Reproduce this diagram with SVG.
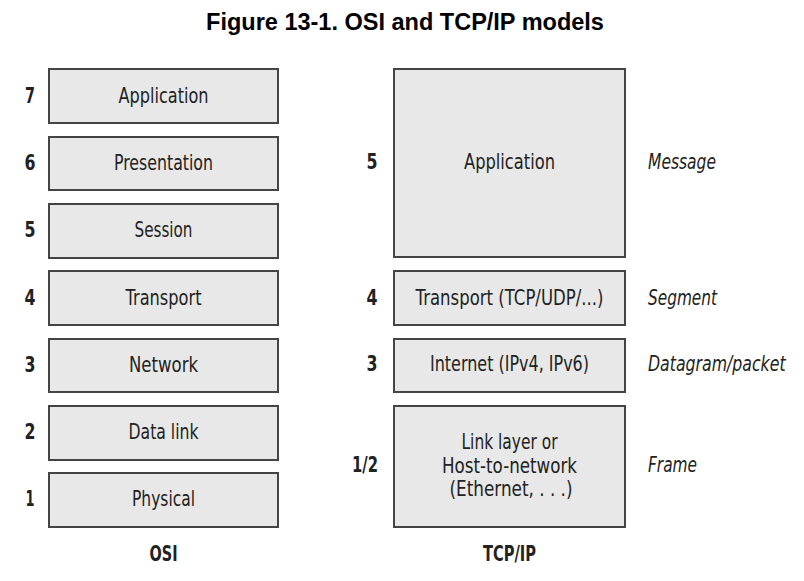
<svg xmlns="http://www.w3.org/2000/svg" width="804" height="581" viewBox="0 0 804 581">
<style>
.box{fill:#e8e8e8;stroke:#444;stroke-width:2}
.t{font-family:"DejaVu Sans",sans-serif;font-size:21px;fill:#222;text-anchor:middle;dominant-baseline:central}
.n{font-family:"DejaVu Sans",sans-serif;font-size:21px;font-weight:bold;fill:#222;text-anchor:middle;dominant-baseline:central}
.i{font-family:"DejaVu Sans",sans-serif;font-size:21px;font-style:italic;fill:#222;dominant-baseline:central}
.title{font-family:"Liberation Sans",Arial,sans-serif;font-size:23.5px;font-weight:bold;fill:#000;text-anchor:middle}
</style>
<rect width="804" height="581" fill="#fff"/>
<text class="title" x="405" y="30">Figure 13-1. OSI and TCP/IP models</text>
<g id="osi7"><rect class="box" x="49" y="69" width="229" height="54"/><text class="t" x="163.5" y="96" textLength="90" lengthAdjust="spacingAndGlyphs">Application</text><text class="n" x="30" y="96" textLength="10" lengthAdjust="spacingAndGlyphs">7</text></g>
<g id="osi6"><rect class="box" x="49" y="137" width="229" height="53"/><text class="t" x="163.5" y="163" textLength="99" lengthAdjust="spacingAndGlyphs">Presentation</text><text class="n" x="30" y="163" textLength="11" lengthAdjust="spacingAndGlyphs">6</text></g>
<g id="osi5"><rect class="box" x="49" y="204" width="229" height="54"/><text class="t" x="163.5" y="230" textLength="58" lengthAdjust="spacingAndGlyphs">Session</text><text class="n" x="30" y="230" textLength="11" lengthAdjust="spacingAndGlyphs">5</text></g>
<g id="osi4"><rect class="box" x="49" y="271" width="229" height="54"/><text class="t" x="163.5" y="298" textLength="76" lengthAdjust="spacingAndGlyphs">Transport</text><text class="n" x="30" y="298" textLength="11" lengthAdjust="spacingAndGlyphs">4</text></g>
<g id="osi3"><rect class="box" x="49" y="339" width="229" height="53"/><text class="t" x="163.5" y="365" textLength="69" lengthAdjust="spacingAndGlyphs">Network</text><text class="n" x="30" y="365" textLength="11" lengthAdjust="spacingAndGlyphs">3</text></g>
<g id="osi2"><rect class="box" x="49" y="406" width="229" height="54"/><text class="t" x="163.5" y="432" textLength="70" lengthAdjust="spacingAndGlyphs">Data link</text><text class="n" x="30" y="432" textLength="11" lengthAdjust="spacingAndGlyphs">2</text></g>
<g id="osi1"><rect class="box" x="49" y="473" width="229" height="54"/><text class="t" x="163.5" y="499" textLength="63" lengthAdjust="spacingAndGlyphs">Physical</text><text class="n" x="30" y="499" textLength="9" lengthAdjust="spacingAndGlyphs">1</text></g>
<text class="n" x="163.5" y="554" textLength="28" lengthAdjust="spacingAndGlyphs">OSI</text>
<g id="tcp5"><rect class="box" x="394" y="69" width="231" height="188"/><text class="t" x="509.5" y="162" textLength="91" lengthAdjust="spacingAndGlyphs">Application</text><text class="n" x="372" y="162" textLength="11" lengthAdjust="spacingAndGlyphs">5</text><text class="i" x="648" y="162" textLength="68" lengthAdjust="spacingAndGlyphs">Message</text></g>
<g id="tcp4"><rect class="box" x="394" y="271" width="231" height="54"/><text class="t" x="509.5" y="298" textLength="188" lengthAdjust="spacingAndGlyphs">Transport (TCP/UDP/...)</text><text class="n" x="372" y="298" textLength="11" lengthAdjust="spacingAndGlyphs">4</text><text class="i" x="648" y="298" textLength="69" lengthAdjust="spacingAndGlyphs">Segment</text></g>
<g id="tcp3"><rect class="box" x="394" y="339" width="231" height="53"/><text class="t" x="509.5" y="364" textLength="159" lengthAdjust="spacingAndGlyphs">Internet (IPv4, IPv6)</text><text class="n" x="372" y="364" textLength="11" lengthAdjust="spacingAndGlyphs">3</text><text class="i" transform="translate(648,364) scale(0.75,1)" x="0" y="0">Datagram/packet</text></g>
<g id="tcp12"><rect class="box" x="394" y="406" width="231" height="121"/><text class="t" x="509.5" y="442" textLength="96" lengthAdjust="spacingAndGlyphs">Link layer or</text><text class="t" x="509.5" y="466" textLength="135" lengthAdjust="spacingAndGlyphs">Host-to-network</text><text class="t" x="511" y="489" textLength="123" lengthAdjust="spacingAndGlyphs">(Ethernet, . . .)</text><text class="n" x="365" y="465" textLength="26" lengthAdjust="spacingAndGlyphs">1/2</text><text class="i" x="648" y="465" textLength="49" lengthAdjust="spacingAndGlyphs">Frame</text></g>
<text class="n" x="509.5" y="554" textLength="53" lengthAdjust="spacingAndGlyphs">TCP/IP</text>
<g id="connectors"/>
</svg>
